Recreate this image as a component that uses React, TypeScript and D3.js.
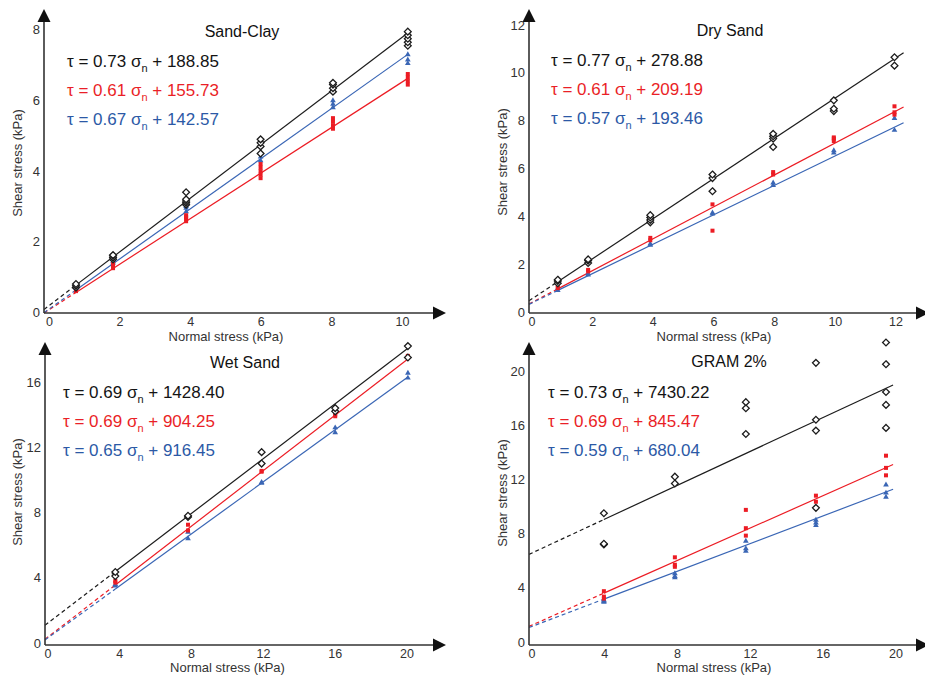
import * as d3 from "d3";

// colonnes de contrainte normale (kPa) et valeurs de cisaillement
const sandClayX = [0.75, 1.8, 3.87, 5.98, 8.03, 10.15];
const sandClayBlack = [[0.7, 0.75, 0.8], [1.5, 1.55, 1.6, 1.62], [3.05, 3.1, 3.15, 3.2, 3.4], [4.5, 4.7, 4.8, 4.9], [6.25, 6.35, 6.45, 6.5], [7.55, 7.65, 7.75, 7.85, 7.95]];
const sandClayRed = [[0.6, 0.65, 0.7], [1.25, 1.3, 1.38], [2.58, 2.65, 2.7, 2.75], [3.8, 3.9, 4.0, 4.1, 4.2], [5.2, 5.3, 5.4, 5.5], [6.45, 6.55, 6.65, 6.75]];
const sandClayBlue = [[0.68, 0.72, 0.76], [1.4, 1.45, 1.5], [2.85, 2.95, 3.0], [4.3, 4.4, 4.5], [5.8, 5.9, 6.0], [7.05, 7.15, 7.3]];
const sandClayFit = [[0.2, 0.76], [0.08, 0.645], [0.1, 0.71]];
const sandClaySlopes = ["0.73", "0.61", "0.67"];
const sandClayIntercepts = ["188.85", "155.73", "142.57"];

const drySandX = [0.85, 1.85, 3.9, 5.95, 7.95, 9.95, 11.95];
const drySandBlack = [[1.2, 1.3, 1.35], [2.05, 2.15, 2.2], [3.75, 3.85, 3.95, 4.05], [5.05, 5.6, 5.75], [6.9, 7.25, 7.35, 7.45], [8.4, 8.5, 8.85], [10.3, 10.65]];
const drySandRed = [[1.0, 1.1], [1.7, 1.76], [3.0, 3.1], [3.4, 4.5], [5.75, 5.85], [7.15, 7.25, 7.3], [8.25, 8.35, 8.6]];
const drySandBlue = [[0.9, 1.0], [1.55, 1.6], [2.8, 2.85], [4.1, 4.15], [5.3, 5.4], [6.65, 6.75], [7.6, 8.1]];
const drySandFit = [[0.55, 0.84], [0.4, 0.667], [0.38, 0.615]];
const drySandSlopes = ["0.77", "0.61", "0.57"];
const drySandIntercepts = ["278.88", "209.19", "193.46"];

const wetSandX = [3.75, 7.8, 11.9, 16, 20.05];
const wetSandBlack = [[4.1, 4.35], [7.73, 7.8], [11.0, 11.7], [14.2, 14.4], [17.5, 18.2]];
const wetSandRed = [[3.7, 3.8], [6.9, 7.25], [10.5, 10.55], [13.9, 14.0], [17.55, 17.6]];
const wetSandBlue = [[3.5, 3.6], [6.4, 6.8], [9.8, 9.85], [12.9, 13.2], [16.25, 16.55]];
const wetSandFit = [[1.23, 0.84], [0.37, 0.85], [0.32, 0.797]];
const wetSandSlopes = ["0.69", "0.69", "0.65"];
const wetSandIntercepts = ["1428.40", "904.25", "916.45"];

const gramX = [3.95, 7.85, 11.75, 15.6, 19.45];
const gramBlack = [[7.2, 7.25, 9.5], [11.7, 12.2], [15.35, 17.25, 17.7], [9.9, 15.6, 16.4, 20.6], [15.8, 17.5, 18.45, 20.5, 22.1]];
const gramRed = [[3.2, 3.35, 3.75], [5.55, 5.7, 6.25], [7.85, 8.4, 9.75], [10.35, 10.8], [12.3, 12.85, 13.75]];
const gramBlue = [[2.95, 3.0, 3.1], [4.75, 4.85, 5.05], [6.7, 6.9, 7.45], [8.6, 8.8, 9.0], [10.7, 11.0, 11.6]];
const gramFit = [[6.57, 0.625], [1.25, 0.597], [1.15, 0.51]];
const gramSlopes = ["0.73", "0.69", "0.59"];
const gramIntercepts = ["7430.22", "845.47", "680.04"];

const BLACK = "#1c1c1c";
const RED = "#ec1c24";
const BLUE = "#3a66b5";
const TEXTCOL = ["#141414", "#ea1f27", "#2c59a6"];
const FONT = "Arial, 'Liberation Sans', sans-serif";

type PanelProps = {
  title: string;
  xs: number[];
  series: number[][][];
  fit: number[][];
  slopes: string[];
  intercepts: string[];
  xMax: number;
  xStep: number;
  yMax: number;
  yStep: number;
  endX: number;
  // mise en page (pixels)
  xr: [number, number];
  yr: [number, number];
  axisX: number;
  axisY: number;
  topTip: number;
  rightTip: number;
  titlePos: [number, number];
  eqPos: [number, number];
  xLabelY: number;
  yLabelPos: [number, number];
};

const Panel = (p: PanelProps) => {
  const x = d3.scaleLinear().domain([0, p.xMax]).range(p.xr);
  const y = d3.scaleLinear().domain([0, p.yMax]).range(p.yr);
  const xStart = x.invert(p.axisX);
  const line = d3.line<number[]>().x((d) => x(d[0])).y((d) => y(d[1]));
  const cols = [BLACK, RED, BLUE];
  const xTicks = d3.range(0, p.xMax + 0.001, p.xStep);
  const yTicks = d3.range(0, p.yMax + 0.001, p.yStep);
  const x0 = p.xs[0];

  const marker = (k: number, cx: number, cy: number, key: string) => {
    if (k === 0) {
      const r = 3.4;
      return (
        <path key={key} transform={`translate(${cx},${cy})`}
          d={`M0,${-r}L${r},0L0,${r}L${-r},0Z`} fill="white" stroke={BLACK} strokeWidth={1.3} />
      );
    }
    if (k === 1) {
      return <rect key={key} x={cx - 2} y={cy - 2} width={4} height={4} fill={RED} />;
    }
    return (
      <path key={key} transform={`translate(${cx},${cy})`}
        d={d3.symbol(d3.symbolTriangle, 14)() || ""} fill={BLUE} />
    );
  };

  return (
    <g fontFamily={FONT}>
      {/* droites d'ajustement */}
      {p.fit.map(([b, m], k) => (
        <g key={"fit" + k}>
          <path d={line([[xStart, b + m * xStart], [x0, b + m * x0]]) || ""}
            fill="none" stroke={cols[k]} strokeWidth={1.2} strokeDasharray="4,3" />
          <path d={line([[x0, b + m * x0], [p.endX, b + m * p.endX]]) || ""}
            fill="none" stroke={cols[k]} strokeWidth={1.2} />
        </g>
      ))}
      {/* points */}
      {[2, 1, 0].map((k) =>
        p.series[k].map((col, i) =>
          col.map((v, j) => marker(k, x(p.xs[i]), y(v), `m${k}-${i}-${j}`))
        )
      )}
      {/* axes */}
      <line x1={p.axisX} x2={p.axisX} y1={p.axisY} y2={p.topTip + 10} stroke="#333" strokeWidth={1.6} />
      <line x1={p.axisX} x2={p.rightTip - 10} y1={p.axisY} y2={p.axisY} stroke="#333" strokeWidth={1.6} />
      <path d={`M${p.axisX},${p.topTip}L${p.axisX + 6.5},${p.topTip + 13}L${p.axisX - 6.5},${p.topTip + 13}Z`} fill="#111" />
      <path d={`M${p.rightTip},${p.axisY}L${p.rightTip - 13},${p.axisY - 6.5}L${p.rightTip - 13},${p.axisY + 6.5}Z`} fill="#111" />
      {xTicks.map((t) => (
        <text key={"xt" + t} x={x(t)} y={p.axisY + 13} textAnchor="middle" fontSize={12.5} fill="#333">{t}</text>
      ))}
      {yTicks.map((t) => (
        <text key={"yt" + t} x={p.axisX - 4} y={y(t) + 4.5} textAnchor="end" fontSize={13} fill="#333">{t}</text>
      ))}
      <text x={(p.xr[0] + p.xr[1]) / 2} y={p.xLabelY} textAnchor="middle" fontSize={13} fill="#333">Normal stress (kPa)</text>
      <text transform={`translate(${p.yLabelPos[0]},${p.yLabelPos[1]}) rotate(-90)`} textAnchor="middle" fontSize={13} fill="#333">Shear stress (kPa)</text>
      <text x={p.titlePos[0]} y={p.titlePos[1]} textAnchor="middle" fontSize={16} fill="#111">{p.title}</text>
      {p.slopes.map((s, k) => (
        <text key={"eq" + k} x={p.eqPos[0]} y={p.eqPos[1] + k * 28.8} fontSize={17} fill={TEXTCOL[k]}>
          {`τ = ${s} σ`}
          <tspan dy={5} fontSize={11}>n</tspan>
          <tspan dy={-5}>{` + ${p.intercepts[k]}`}</tspan>
        </text>
      ))}
    </g>
  );
};

export default function App() {
  return (
    <svg width={925} height={675} style={{ position: "absolute", left: 0, top: 0, background: "white" }}>
      <Panel title="Sand-Clay" xs={sandClayX} series={[sandClayBlack, sandClayRed, sandClayBlue]}
        fit={sandClayFit} slopes={sandClaySlopes} intercepts={sandClayIntercepts}
        xMax={10} xStep={2} yMax={8} yStep={2} endX={10.15}
        xr={[49.5, 402.5]} yr={[312.3, 29.9]} axisX={44} axisY={313} topTip={9} rightTip={446}
        titlePos={[242, 37]} eqPos={[67, 67]} xLabelY={341} yLabelPos={[22, 163]} />
      <Panel title="Dry Sand" xs={drySandX} series={[drySandBlack, drySandRed, drySandBlue]}
        fit={drySandFit} slopes={drySandSlopes} intercepts={drySandIntercepts}
        xMax={12} xStep={2} yMax={12} yStep={2} endX={12.25}
        xr={[532, 896]} yr={[312, 25]} axisX={529} axisY={313} topTip={9} rightTip={929}
        titlePos={[730, 36]} eqPos={[551, 66]} xLabelY={341} yLabelPos={[507, 162]} />
      <Panel title="Wet Sand" xs={wetSandX} series={[wetSandBlack, wetSandRed, wetSandBlue]}
        fit={wetSandFit} slopes={wetSandSlopes} intercepts={wetSandIntercepts}
        xMax={20} xStep={4} yMax={16} yStep={4} endX={20.05}
        xr={[48, 407]} yr={[643, 382]} axisX={45} axisY={645} topTip={342} rightTip={446}
        titlePos={[245, 368]} eqPos={[63, 398]} xLabelY={672} yLabelPos={[22, 492]} />
      <Panel title="GRAM 2%" xs={gramX} series={[gramBlack, gramRed, gramBlue]}
        fit={gramFit} slopes={gramSlopes} intercepts={gramIntercepts}
        xMax={20} xStep={4} yMax={20} yStep={4} endX={19.84}
        xr={[532, 896]} yr={[642, 371]} axisX={529} axisY={645} topTip={342} rightTip={929}
        titlePos={[729, 367]} eqPos={[548, 398]} xLabelY={672} yLabelPos={[507, 493]} />
    </svg>
  );
}
